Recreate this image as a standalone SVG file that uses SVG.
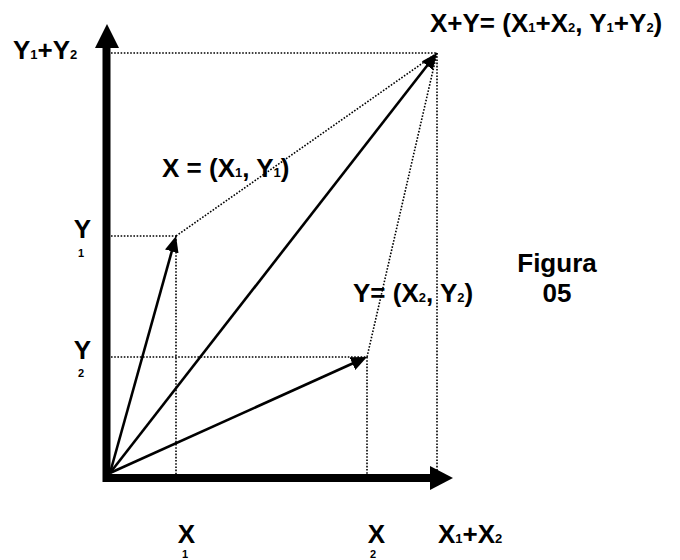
<svg xmlns="http://www.w3.org/2000/svg" width="680" height="560" viewBox="0 0 680 560">
<style>
text{font-family:"Liberation Sans",Arial,sans-serif;font-weight:bold;fill:#000}
.t{font-size:26px}
.m{font-size:26px}
.s{font-size:13px}
.b{font-size:11px}
.dot{stroke:#000;stroke-width:1.6;stroke-dasharray:1.6 1.6;fill:none}
.vec{stroke:#000;stroke-width:2.6;fill:none;marker-end:url(#ah)}
.axis{stroke:#000;stroke-width:8;fill:none}
</style>
<defs>
<marker id="ah" markerUnits="userSpaceOnUse" markerWidth="16" markerHeight="14" refX="8" refY="7" orient="auto">
<path d="M0,0 L16,7 L0,14 z" fill="#000"/>
</marker>
</defs>
<rect width="680" height="560" fill="#fff"/>
<g id="connectors">
<line class="dot" x1="111" y1="236" x2="176" y2="236"/>
<line class="dot" x1="176" y1="236" x2="176" y2="474"/>
<line class="dot" x1="111" y1="357" x2="367" y2="357"/>
<line class="dot" x1="367" y1="357" x2="367" y2="474"/>
<line class="dot" x1="111" y1="53" x2="437" y2="53"/>
<line class="dot" x1="437" y1="53" x2="437" y2="474"/>
<line class="dot" x1="176" y1="236" x2="437" y2="53"/>
<line class="dot" x1="367" y1="357" x2="437" y2="53"/>
<line class="vec" x1="110" y1="473" x2="173.9" y2="243.7"/>
<line class="vec" x1="110" y1="473" x2="359.7" y2="360.3"/>
<line class="vec" x1="110" y1="473" x2="432.1" y2="59.3"/>
</g>
<g id="y-axis">
<line class="axis" x1="106.5" y1="482" x2="106.5" y2="46"/>
<polygon points="107,24 95,48 119,48" fill="#000"/>
</g>
<g id="x-axis">
<line class="axis" x1="103" y1="478" x2="432" y2="478"/>
<polygon points="453,478 430,466 430,490" fill="#000"/>
</g>
<g id="label-sum">
<text class="t" x="430" y="32">X+Y= (X<tspan class="s">1</tspan>+X<tspan class="s">2</tspan>, Y<tspan class="s">1</tspan>+Y<tspan class="s">2</tspan>)</text>
</g>
<g id="label-y1y2">
<text class="t" x="13" y="59">Y<tspan class="s">1</tspan>+Y<tspan class="s">2</tspan></text>
</g>
<g id="label-x">
<text class="m" x="162" y="177">X = (X<tspan class="s">1</tspan>, Y<tspan class="s">1</tspan>)</text>
</g>
<g id="label-y">
<text class="m" x="353" y="302">Y= (X<tspan class="s">2</tspan>, Y<tspan class="s">2</tspan>)</text>
</g>
<g id="label-Y1">
<text class="m" x="82.5" y="238" text-anchor="middle">Y</text>
<text class="b" x="81" y="257" text-anchor="middle">1</text>
</g>
<g id="label-Y2">
<text class="m" x="82.5" y="359" text-anchor="middle">Y</text>
<text class="b" x="81" y="377" text-anchor="middle">2</text>
</g>
<g id="label-X1">
<text class="m" x="186.5" y="543" text-anchor="middle">X</text>
<text class="b" x="185" y="558" text-anchor="middle">1</text>
</g>
<g id="label-X2">
<text class="m" x="376.5" y="543" text-anchor="middle">X</text>
<text class="b" x="373" y="558" text-anchor="middle">2</text>
</g>
<g id="label-X1X2">
<text class="m" x="438" y="543">X<tspan class="s">1</tspan>+X<tspan class="s">2</tspan></text>
</g>
<g id="label-figura">
<text class="m" x="557" y="272" text-anchor="middle">Figura</text>
<text class="m" x="557" y="302" text-anchor="middle">05</text>
</g>
</svg>
